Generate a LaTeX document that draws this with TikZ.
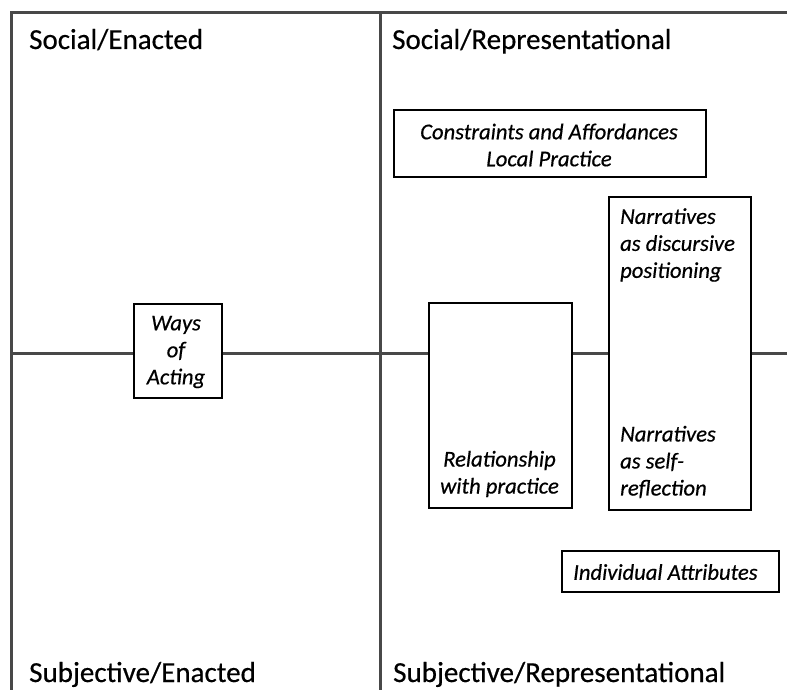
\documentclass[tikz,border=0pt]{standalone}
\usepackage{fontspec}
\setmainfont{Carlito}[FakeBold=0.5, ItalicFeatures={FakeBold=0.5}]
\begin{document}
\begin{tikzpicture}[x=1pt,y=-1pt,
  axis/.style={draw={rgb,255:red,72;green,72;blue,72}, line width=3pt},
  box/.style={draw=black, fill=white, line width=1.6pt, inner sep=0pt},
  lbl/.style={inner sep=0pt, font=\fontsize{22.6}{27}\selectfont\itshape},
  head/.style={inner sep=0pt, font=\fontsize{29}{34}\selectfont, anchor=base west}]
\useasboundingbox (0,0) rectangle (787,690);

% quadrant frame
\coordinate (tl) at (10,13);
\coordinate (tr) at (787,13);
\coordinate (bl) at (11,690);
\coordinate (tm) at (380,13);
\coordinate (bm) at (380,690);
\coordinate (ml) at (11,353);
\coordinate (mr) at (787,353);
\draw[axis] (tl) -- (tr);
\draw[axis] (11,13) -- (bl);
\draw[axis] (tm) -- (bm);
\draw[axis] (ml) -- (mr);

% quadrant headings
\node[head] (se) at (29,49) {Social/Enacted};
\node[head] (sr) at (392,49) {Social/Representational};
\node[head] (sube) at (29,682) {Subjective/Enacted};
\node[head] (subr) at (393,682) {Subjective/Representational};

% boxes
\node[box, anchor=north west, minimum width=88pt, minimum height=94pt] (ways) at (133,303) {};
\node[lbl, align=center] (waystxt) at (176,352) {Ways\\of\\Acting};

\node[box, anchor=north west, minimum width=312pt, minimum height=67pt] (cons) at (393,109) {};
\node[lbl, align=center] (constxt) at (549,145) {Constraints and Affordances\\Local Practice};

\node[box, anchor=north west, minimum width=142pt, minimum height=313pt] (narr) at (608,196) {};
\node[lbl, align=left, anchor=west] (narrtop) at (620,245) {Narratives\\as discursive\\positioning};
\node[lbl, align=left, anchor=west] (narrbot) at (620,462) {Narratives\\as self-\\reflection};

\node[box, anchor=north west, minimum width=143pt, minimum height=205pt] (rel) at (428,302) {};
\node[lbl, align=center] (reltxt) at (499.5,474) {Relationship\\with practice};

\node[box, anchor=north west, minimum width=217pt, minimum height=41pt] (ind) at (561,550) {};
\node[lbl, anchor=west] (indtxt) at (573,572) {Individual Attributes};
\end{tikzpicture}
\end{document}
